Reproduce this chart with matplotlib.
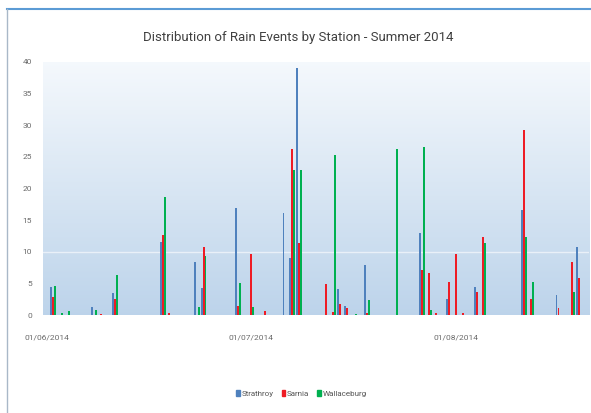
import numpy as np
import matplotlib
matplotlib.use("Agg")
import matplotlib.pyplot as plt
from matplotlib.lines import Line2D
from matplotlib.patches import Patch

plt.rcParams['font.family'] = ['Roboto', 'DejaVu Sans']

# category index (day since 01/06/2014) of each rain event, and mm per station
event_day = [1, 2, 3, 7, 8, 10, 17, 18, 22, 23, 28, 30, 32, 35, 36, 37,
             41, 42, 43, 44, 45, 47, 51, 55, 56, 57, 59, 60, 61, 63, 64,
             70, 71, 75, 77, 78]
strathroy = [4.4, 0, 0, 1.3, 0, 3.5, 11.5, 0, 8.4, 4.3, 17.0, 0, 0, 16.2, 9.0, 39.0,
             0, 0, 4.2, 1.4, 0, 7.9, 0, 12.9, 0, 0, 2.5, 0, 0, 4.4, 0,
             16.6, 0, 3.2, 0, 10.8]
sarnia = [2.8, 0, 0, 0, 0.2, 2.6, 12.6, 0.4, 0, 10.7, 1.4, 9.6, 0.7, 0, 26.3, 11.4,
          4.9, 0.5, 1.8, 1.2, 0, 0.4, 0, 7.1, 6.7, 0.4, 5.3, 9.7, 0.4, 3.7, 12.3,
          29.2, 2.6, 1.1, 8.4, 5.8]
wallaceburg = [4.6, 0.4, 0.7, 0.8, 0, 6.3, 18.7, 0, 1.3, 9.3, 5.0, 1.3, 0, 0, 23.0, 23.0,
               0, 25.3, 0, 0, 0.2, 2.4, 26.2, 26.6, 0.8, 0, 0, 0, 0, 0, 11.4,
               12.4, 5.3, 0, 3.7, 0]
n_days = 80
tick_pos = [0, 30, 60]
tick_labels = ["01/06/2014", "01/07/2014", "01/08/2014"]
stations = ["Strathroy", "Sarnia", "Wallaceburg"]
colors = ["#4F81BD", "#EE1C25", "#00B050"]

fig = plt.figure(figsize=(5.91, 4.13), dpi=100)
ax = fig.add_axes([0.073, 0.237, 0.924, 0.613])

# gradient background of the plot area, light at top, blue at bottom
grad = np.linspace(0, 1, 256).reshape(-1, 1)
top = np.array([0.96, 0.975, 0.99])
bottom = np.array([0.74, 0.83, 0.92])
img = top + (bottom - top) * grad[..., None]
ax.imshow(img, extent=[-0.5, n_days - 0.5, 0, 40], aspect="auto", zorder=0)

ax.axhline(10, color="#e9f0f8", lw=1, zorder=1)

x = np.array(event_day)
w = 0.28
for i, (vals, c) in enumerate(zip([strathroy, sarnia, wallaceburg], colors)):
    ax.bar(x + (i - 1) * 0.29, vals, width=w, color=c, zorder=2, linewidth=0)

ax.set_xlim(-0.5, n_days - 0.5)
ax.set_ylim(0, 40)
ax.set_yticks(range(0, 41, 5))
ax.set_xticks(tick_pos)
ax.set_xticklabels(tick_labels)
for s in ax.spines.values():
    s.set_visible(False)
ax.tick_params(length=0, labelsize=6, labelcolor="#6b6b6b", pad=8)
ax.tick_params(axis="x", pad=14)

fig.text(0.505, 0.91, "Distribution of Rain Events by Station - Summer 2014",
         ha="center", va="center", fontsize=9.5, color="#404040")

handles = [Patch(color=c) for c in colors]
fig.legend(handles, stations, loc="center", bbox_to_anchor=(0.51, 0.048),
           ncol=3, frameon=False, fontsize=5.8, handlelength=0.45, handleheight=0.9,
           handletextpad=0.2, columnspacing=1.0, labelcolor="#555555")

# screenshot frame lines
fig.add_artist(Line2D([0.012, 1], [0.978, 0.978], color="#5b9bd5", lw=1.5))
fig.add_artist(Line2D([0.012, 0.012], [0, 0.978], color="#a9b8c8", lw=1))

fig.savefig("out.png", dpi=100)
